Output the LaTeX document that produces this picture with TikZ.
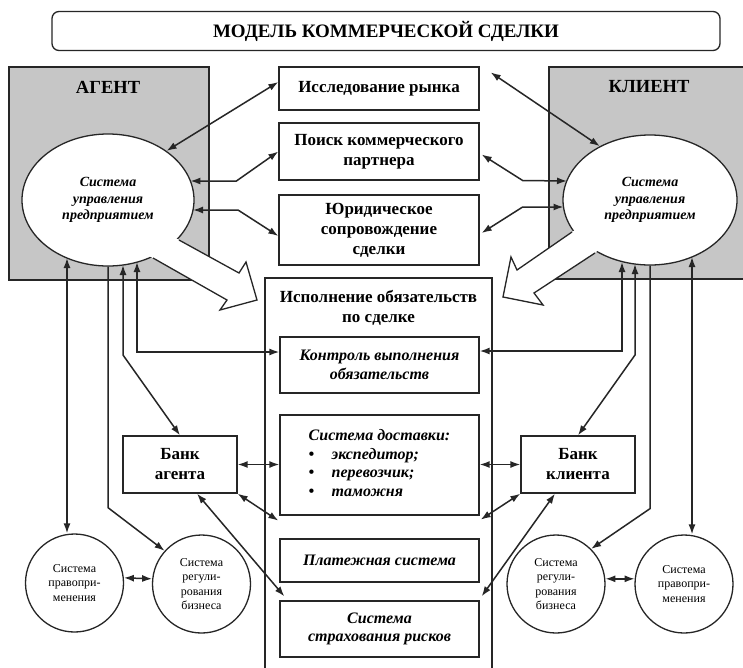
\documentclass[tikz,border=0pt]{standalone}
\usepackage{fontspec}
\setmainfont{Liberation Serif}
\usetikzlibrary{calc,arrows.meta,shapes.geometric}

\definecolor{lc}{HTML}{262626}
\definecolor{shade}{HTML}{C6C6C6}

\tikzset{
  frame/.style={draw=lc, line width=1.3pt},
  box/.style={frame, fill=white, rectangle, inner sep=0pt, align=center},
  hdr/.style={font=\fontsize{17}{20}\selectfont\bfseries},
  itl/.style={font=\fontsize{16}{18.5}\selectfont\bfseries\itshape},
  smalltext/.style={font=\fontsize{12}{14.5}\selectfont},
  zone/.style={draw=lc, line width=1.3pt, fill=shade, inner sep=0pt},
  tip/.tip={Latex[length=10pt,width=7pt]},
  link/.style={draw=lc, line width=1.5pt, -tip},
  both/.style={draw=lc, line width=1.5pt, tip-tip},
  blockarrow/.style={draw=lc, line width=1.3pt, line join=miter},
  roundel/.style={frame, fill=white, circle, inner sep=0pt, minimum size=98, align=center, smalltext},
}

\begin{document}
\begin{tikzpicture}[x=1pt,y=-1pt]
\useasboundingbox[fill=white] (0,0) rectangle (743,667);

% title bar
\node[box, rounded corners=7pt, minimum width=668, minimum height=39,
      font=\fontsize{19}{22}\selectfont\bfseries] (title) at (386,31) {МОДЕЛЬ КОММЕРЧЕСКОЙ СДЕЛКИ};

% shaded parties (the client panel runs off the right edge)
\node[zone, minimum width=200, minimum height=213] (agZ) at (109,173.5) {};
\node[zone, minimum width=200, minimum height=212] (clZ) at (649,173) {};
\node[font=\fontsize{18.5}{22}\selectfont\bfseries] (agT) at (108,87) {АГЕНТ};
\node[font=\fontsize{18.5}{22}\selectfont\bfseries] (clT) at (649,87) {КЛИЕНТ};

% management systems
\node[box, ellipse, minimum width=172, minimum height=132,
      font=\fontsize{14}{16.5}\selectfont\bfseries\itshape] (agE) at (108,200) {Система\\управления\\предприятием};
\node[box, ellipse, minimum width=174, minimum height=130,
      font=\fontsize{14}{16.5}\selectfont\bfseries\itshape] (clE) at (650,200) {Система\\управления\\предприятием};

% wide hollow arrows from the parties into execution
\fill[white] (161,230) -- (239,273) -- (246,262) -- (257,300) -- (220,310) -- (227,300) -- (135,248) -- cycle;
\draw[blockarrow] (179,240) -- (239,273) -- (246,262) -- (257,300) -- (220,310) -- (227,300) -- (153,258);
\fill[white] (588,221) -- (517,270) -- (511,257) -- (503,297) -- (543,305) -- (534,293) -- (611,242) -- cycle;
\draw[blockarrow] (572,232) -- (517,270) -- (511,257) -- (503,297) -- (543,305) -- (534,293) -- (595,253);

% central column
\node[box, hdr, minimum width=200, minimum height=43] (b1) at (379,88.5) {Исследование рынка};
\node[box, hdr, minimum width=200, minimum height=57] (b2) at (379,151.5) {Поиск коммерческого\\партнера};
\node[box, hdr, minimum width=200, minimum height=70] (b3) at (379,230) {Юридическое\\сопровождение\\сделки};

\draw[frame, fill=white] (265,668) -- (265,278) -- (492,278) -- (492,668);
\node[hdr, align=center] (execT) at (378.5,308) {Исполнение обязательств\\по сделке};

\node[box, itl, minimum width=199, minimum height=56] (ctrl) at (379.5,365) {Контроль выполнения\\обязательств};
\node[box, itl, minimum width=199, minimum height=100] (dost) at (379.5,465) {%
  \begin{tabular}{@{}p{23pt}@{}l@{}}
  \multicolumn{2}{@{}c@{}}{Система доставки:}\\
  •&экспедитор;\\
  •&перевозчик;\\
  •&таможня
  \end{tabular}};
\node[box, itl, minimum width=199, minimum height=43] (pay) at (379.5,560.5) {Платежная система};
\node[box, itl, minimum width=199, minimum height=56] (ins) at (379.5,629) {Система\\страхования рисков};

% banks
\node[box, hdr, minimum width=114, minimum height=57] (bankA) at (180,464.5) {Банк\\агента};
\node[box, hdr, minimum width=114, minimum height=57] (bankK) at (578,464.5) {Банк\\клиента};

% external systems
\node[roundel] (c1) at (74.5,583) {Система\\правопри-\\менения};
\node[roundel] (c2) at (201.5,584) {Система\\регули-\\рования\\бизнеса};
\node[roundel] (c3) at (556,584) {Система\\регули-\\рования\\бизнеса};
\node[roundel] (c4) at (684,584) {Система\\правопри-\\менения};

% agent links to the pre-contract stages
\draw[both] (agE.40) -- ($(b1.west)+(0,-6.5)$);
\draw[both] ($(agE.center)+(82.4,-19)$) -- ++(46,0) -- (b2.west);
\draw[both] ($(agE.center)+(85,10)$) -- ++(45,0) -- ($(b3.west)+(0,6)$);

% client links to the pre-contract stages
\draw[both] ($(b1.north east)+(11,6)$) -- (clE.133);
\draw[both] ($(b2.east)+(2,3)$) -- ++(41,26) -- ($(clE.center)+(-83,-19)$);
\draw[both] ($(b3.east)+(2,3)$) -- ++(41,-26) -- ($(clE.center)+(-86.5,7)$);

% agent verticals
\draw[both] ($(agE.center)+(-41,58)$) coordinate (v1) -- (v1 |- c1.north);
\draw[link] (agE.south) -- ++(0,241) -- (c2.138);
\draw[both] ($(agE.center)+(15,65)$) -- ++(0,90) -- (bankA.north);
\draw[both] ($(agE.center)+(29,62)$) |- ($(ctrl.west)+(0,-13)$);

% client verticals
\draw[both] ($(clE.center)+(-28,62)$) |- ($(ctrl.east)+(0,-14)$);
\draw[both] ($(clE.center)+(-15,64)$) -- ++(0,91) -- (bankK.north);
\draw[link] (clE.south) -- ++(0,243) -- (c3.45);
\draw[both] ($(clE.center)+(42,57)$) coordinate (v8) -- (v8 |- c4.north);

% bank links
\draw[both] (bankA.east) -- (bankA.east -| dost.west);
\draw[both] (bankA.south east) -- ($(dost.south west)+(-1,5)$);
\draw[both] ($(bankA.south)+(17,0)$) -- ($(ins.north west)+(5,-4)$);
\draw[both] (bankK.west -| dost.east) -- (bankK.west);
\draw[both] ($(dost.south east)+(1,4)$) -- (bankK.south west);
\draw[both] ($(ins.north east)+(2,-4)$) -- ($(bankK.south)+(-23,0)$);

% links between external systems
\draw[both] (c1.6) -- (c2.174);
\draw[both] (c3.6) -- (c4.174);
\end{tikzpicture}
\end{document}
